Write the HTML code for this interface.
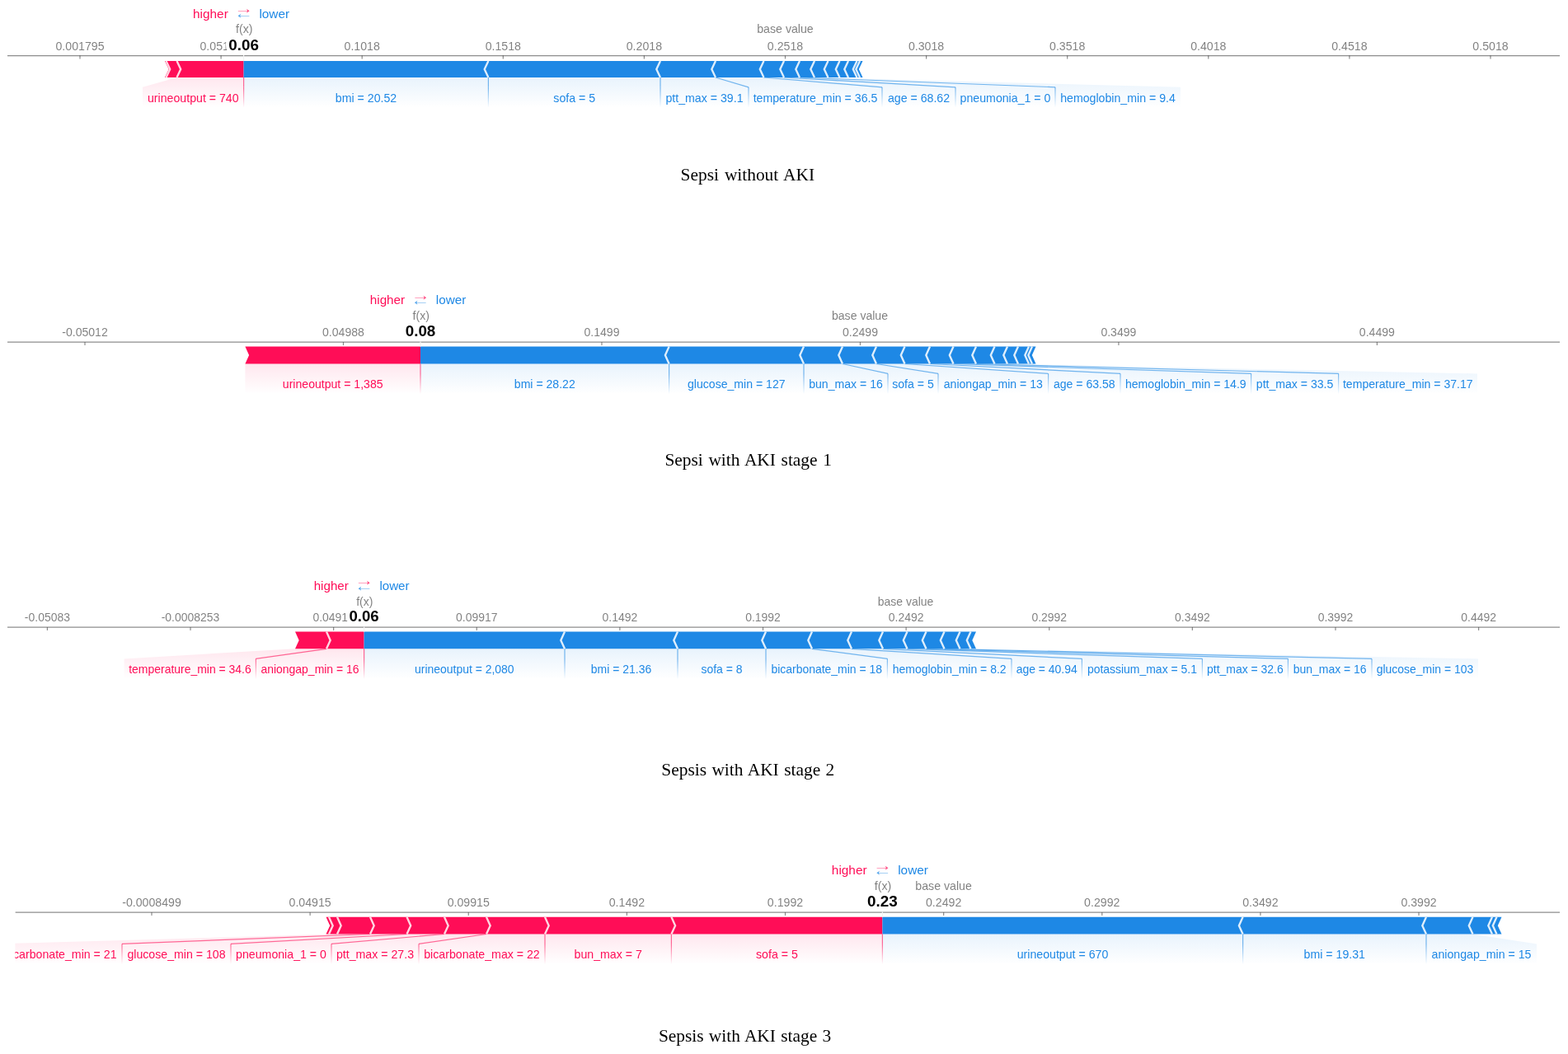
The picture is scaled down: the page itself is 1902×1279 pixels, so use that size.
<!DOCTYPE html>
<html lang="en"><head><meta charset="utf-8"><title>SHAP force plots</title>
<style>
html,body{margin:0;padding:0;background:#fff;}
body{width:1902px;height:1279px;overflow:hidden;}
svg{display:block;position:absolute;left:0;top:0;}
text{font-family:"Liberation Sans",Arial,Helvetica,sans-serif;}
.lab{font-size:14.1px;text-anchor:middle;}
.tick{font-size:14.1px;text-anchor:middle;fill:#000;opacity:.5;}
.ttl{font-size:14.1px;text-anchor:middle;fill:#000;opacity:.5;}
.hl{font-size:15.3px;}
.arr{font-family:"WenQuanYi Zen Hei","DejaVu Sans",sans-serif;font-size:16px;opacity:.75;}
.bold{font-size:18.8px;font-weight:bold;text-anchor:middle;}
.cap{font-family:"Liberation Serif","Times New Roman",serif;font-size:21.4px;fill:#000;white-space:pre;}
.p0 .lab,.p0 .tick,.p0 .ttl{font-size:14.17px;}.p0 .hl{font-size:15.38px;}.p0 .bold{font-size:18.89px;}
.p1 .lab,.p1 .tick,.p1 .ttl{font-size:14.09px;}.p1 .hl{font-size:15.28px;}.p1 .bold{font-size:18.78px;}
.p2 .lab,.p2 .tick,.p2 .ttl{font-size:13.96px;}.p2 .hl{font-size:15.15px;}.p2 .bold{font-size:18.61px;}
.p3 .lab,.p3 .tick,.p3 .ttl{font-size:14.17px;}.p3 .hl{font-size:15.38px;}.p3 .bold{font-size:18.89px;}
</style></head><body>
<svg width="1902" height="1279" viewBox="0 0 1902 1279">
<defs>
<linearGradient id="lg0" x1="0" y1="0" x2="0" y2="1"><stop offset="0" stop-color="rgb(255,13,87)" stop-opacity="0.6"/><stop offset="1" stop-color="rgb(255,13,87)" stop-opacity="0"/></linearGradient>
<linearGradient id="bg0" x1="0" y1="0" x2="0" y2="1"><stop offset="0" stop-color="rgb(255,13,87)" stop-opacity="0.5"/><stop offset="1" stop-color="rgb(255,13,87)" stop-opacity="0"/></linearGradient>
<linearGradient id="lg1" x1="0" y1="0" x2="0" y2="1"><stop offset="0" stop-color="rgb(30,136,229)" stop-opacity="0.6"/><stop offset="1" stop-color="rgb(30,136,229)" stop-opacity="0"/></linearGradient>
<linearGradient id="bg1" x1="0" y1="0" x2="0" y2="1"><stop offset="0" stop-color="rgb(30,136,229)" stop-opacity="0.5"/><stop offset="1" stop-color="rgb(30,136,229)" stop-opacity="0"/></linearGradient>
<clipPath id="cp3"><rect x="18.4" y="1037.2" width="1873.6" height="330"/></clipPath>
</defs>
<rect x="0" y="0" width="1902" height="1279" fill="#fff"/>
<g class="p0">
<path d="M592.4,94L592.4,105.8L592.4,130.6L295.6,130.6L295.6,105.8L295.6,94Z" fill="url(#bg1)" opacity="0.2"/>
<path d="M801,94L801,105.8L801,130.6L592.4,130.6L592.4,105.8L592.4,94Z" fill="url(#bg1)" opacity="0.2"/>
<path d="M868,94L908,105.8L908,130.6L801,130.6L801,105.8L801,94Z" fill="url(#bg1)" opacity="0.2"/>
<path d="M926.5,94L1070,105.8L1070,130.6L908,130.6L908,105.8L868,94Z" fill="url(#bg1)" opacity="0.2"/>
<path d="M951,94L1159,105.8L1159,130.6L1070,130.6L1070,105.8L926.5,94Z" fill="url(#bg1)" opacity="0.2"/>
<path d="M970,94L1280,105.8L1280,130.6L1159,130.6L1159,105.8L951,94Z" fill="url(#bg1)" opacity="0.2"/>
<path d="M988,94L1432,105.8L1432,130.6L1280,130.6L1280,105.8L970,94Z" fill="url(#bg1)" opacity="0.2"/>
<path d="M295.6,94L295.6,105.8L295.6,130.6L173,130.6L173,105.8L214.5,94Z" fill="url(#bg0)" opacity="0.2"/>
<path d="M200,74.1L201.5,74.1L206.2,84.05L201.5,94L200,94L204.7,84.05Z" fill="rgb(255,13,87)"/>
<path d="M201.5,74.1L214.5,74.1L219.2,84.05L214.5,94L201.5,94L206.2,84.05Z" fill="rgb(255,13,87)"/>
<path d="M214.5,74.1L295.6,74.1L295.6,84.05L295.6,94L214.5,94L219.2,84.05Z" fill="rgb(255,13,87)"/>
<path d="M295.6,74.1L592.4,74.1L587.7,84.05L592.4,94L295.6,94L295.6,84.05Z" fill="rgb(30,136,229)"/>
<path d="M592.4,74.1L801,74.1L796.3,84.05L801,94L592.4,94L587.7,84.05Z" fill="rgb(30,136,229)"/>
<path d="M801,74.1L868,74.1L863.3,84.05L868,94L801,94L796.3,84.05Z" fill="rgb(30,136,229)"/>
<path d="M868,74.1L926.5,74.1L921.8,84.05L926.5,94L868,94L863.3,84.05Z" fill="rgb(30,136,229)"/>
<path d="M926.5,74.1L951,74.1L946.3,84.05L951,94L926.5,94L921.8,84.05Z" fill="rgb(30,136,229)"/>
<path d="M951,74.1L970,74.1L965.3,84.05L970,94L951,94L946.3,84.05Z" fill="rgb(30,136,229)"/>
<path d="M970,74.1L988,74.1L983.3,84.05L988,94L970,94L965.3,84.05Z" fill="rgb(30,136,229)"/>
<path d="M988,74.1L1004.5,74.1L999.8,84.05L1004.5,94L988,94L983.3,84.05Z" fill="rgb(30,136,229)"/>
<path d="M1004.5,74.1L1018.5,74.1L1013.8,84.05L1018.5,94L1004.5,94L999.8,84.05Z" fill="rgb(30,136,229)"/>
<path d="M1018.5,74.1L1029,74.1L1024.3,84.05L1029,94L1018.5,94L1013.8,84.05Z" fill="rgb(30,136,229)"/>
<path d="M1029,74.1L1039.5,74.1L1034.8,84.05L1039.5,94L1029,94L1024.3,84.05Z" fill="rgb(30,136,229)"/>
<path d="M1039.5,74.1L1043,74.1L1038.3,84.05L1043,94L1039.5,94L1034.8,84.05Z" fill="rgb(30,136,229)"/>
<path d="M1043,74.1L1046.5,74.1L1041.8,84.05L1046.5,94L1043,94L1038.3,84.05Z" fill="rgb(30,136,229)"/>
<rect x="591.8" y="105.8" width="1.2" height="24.8" fill="url(#lg1)"/>
<line x1="592.4" y1="94" x2="592.4" y2="105.8" stroke="rgb(30,136,229)" stroke-opacity="0.6" stroke-width="1.2"/>
<rect x="800.4" y="105.8" width="1.2" height="24.8" fill="url(#lg1)"/>
<line x1="801" y1="94" x2="801" y2="105.8" stroke="rgb(30,136,229)" stroke-opacity="0.6" stroke-width="1.2"/>
<rect x="907.4" y="105.8" width="1.2" height="24.8" fill="url(#lg1)"/>
<line x1="868" y1="94" x2="908" y2="105.8" stroke="rgb(30,136,229)" stroke-opacity="0.6" stroke-width="1.2"/>
<rect x="1069.4" y="105.8" width="1.2" height="24.8" fill="url(#lg1)"/>
<line x1="926.5" y1="94" x2="1070" y2="105.8" stroke="rgb(30,136,229)" stroke-opacity="0.6" stroke-width="1.2"/>
<rect x="1158.4" y="105.8" width="1.2" height="24.8" fill="url(#lg1)"/>
<line x1="951" y1="94" x2="1159" y2="105.8" stroke="rgb(30,136,229)" stroke-opacity="0.6" stroke-width="1.2"/>
<rect x="1279.4" y="105.8" width="1.2" height="24.8" fill="url(#lg1)"/>
<line x1="970" y1="94" x2="1280" y2="105.8" stroke="rgb(30,136,229)" stroke-opacity="0.6" stroke-width="1.2"/>
<rect x="295" y="105.8" width="1.2" height="24.8" fill="url(#lg0)"/>
<line x1="295.6" y1="94" x2="295.6" y2="105.8" stroke="rgb(255,13,87)" stroke-opacity="0.6" stroke-width="1.2"/>
<path d="M201.5,74.1L206.2,84.05L201.5,94" fill="none" stroke="rgb(255,214,226)" stroke-width="2.35"/>
<path d="M214.5,74.1L219.2,84.05L214.5,94" fill="none" stroke="rgb(255,214,226)" stroke-width="2.35"/>
<path d="M592.4,74.1L587.7,84.05L592.4,94" fill="none" stroke="rgb(222,238,252)" stroke-width="2.35"/>
<path d="M801,74.1L796.3,84.05L801,94" fill="none" stroke="rgb(222,238,252)" stroke-width="2.35"/>
<path d="M868,74.1L863.3,84.05L868,94" fill="none" stroke="rgb(222,238,252)" stroke-width="2.35"/>
<path d="M926.5,74.1L921.8,84.05L926.5,94" fill="none" stroke="rgb(222,238,252)" stroke-width="2.35"/>
<path d="M951,74.1L946.3,84.05L951,94" fill="none" stroke="rgb(222,238,252)" stroke-width="2.35"/>
<path d="M970,74.1L965.3,84.05L970,94" fill="none" stroke="rgb(222,238,252)" stroke-width="2.35"/>
<path d="M988,74.1L983.3,84.05L988,94" fill="none" stroke="rgb(222,238,252)" stroke-width="2.35"/>
<path d="M1004.5,74.1L999.8,84.05L1004.5,94" fill="none" stroke="rgb(222,238,252)" stroke-width="2.35"/>
<path d="M1018.5,74.1L1013.8,84.05L1018.5,94" fill="none" stroke="rgb(222,238,252)" stroke-width="2.35"/>
<path d="M1029,74.1L1024.3,84.05L1029,94" fill="none" stroke="rgb(222,238,252)" stroke-width="2.35"/>
<path d="M1039.5,74.1L1034.8,84.05L1039.5,94" fill="none" stroke="rgb(222,238,252)" stroke-width="2.35"/>
<path d="M1043,74.1L1038.3,84.05L1043,94" fill="none" stroke="rgb(222,238,252)" stroke-width="2.35"/>
<line x1="9" y1="67.6" x2="1892" y2="67.6" stroke="#000" stroke-opacity="0.45" stroke-width="1.2"/>
<line x1="97" y1="67.6" x2="97" y2="71.4" stroke="#000" stroke-opacity="0.45" stroke-width="1.2"/>
<text class="tick" x="97" y="60.7">0.001795</text>
<line x1="268.1" y1="67.6" x2="268.1" y2="71.4" stroke="#000" stroke-opacity="0.45" stroke-width="1.2"/>
<text class="tick" x="268.1" y="60.7">0.05179</text>
<line x1="439.2" y1="67.6" x2="439.2" y2="71.4" stroke="#000" stroke-opacity="0.45" stroke-width="1.2"/>
<text class="tick" x="439.2" y="60.7">0.1018</text>
<line x1="610.3" y1="67.6" x2="610.3" y2="71.4" stroke="#000" stroke-opacity="0.45" stroke-width="1.2"/>
<text class="tick" x="610.3" y="60.7">0.1518</text>
<line x1="781.4" y1="67.6" x2="781.4" y2="71.4" stroke="#000" stroke-opacity="0.45" stroke-width="1.2"/>
<text class="tick" x="781.4" y="60.7">0.2018</text>
<line x1="952.5" y1="67.6" x2="952.5" y2="71.4" stroke="#000" stroke-opacity="0.45" stroke-width="1.2"/>
<text class="tick" x="952.5" y="60.7">0.2518</text>
<line x1="1123.6" y1="67.6" x2="1123.6" y2="71.4" stroke="#000" stroke-opacity="0.45" stroke-width="1.2"/>
<text class="tick" x="1123.6" y="60.7">0.3018</text>
<line x1="1294.7" y1="67.6" x2="1294.7" y2="71.4" stroke="#000" stroke-opacity="0.45" stroke-width="1.2"/>
<text class="tick" x="1294.7" y="60.7">0.3518</text>
<line x1="1465.8" y1="67.6" x2="1465.8" y2="71.4" stroke="#000" stroke-opacity="0.45" stroke-width="1.2"/>
<text class="tick" x="1465.8" y="60.7">0.4018</text>
<line x1="1636.9" y1="67.6" x2="1636.9" y2="71.4" stroke="#000" stroke-opacity="0.45" stroke-width="1.2"/>
<text class="tick" x="1636.9" y="60.7">0.4518</text>
<line x1="1808" y1="67.6" x2="1808" y2="71.4" stroke="#000" stroke-opacity="0.45" stroke-width="1.2"/>
<text class="tick" x="1808" y="60.7">0.5018</text>
<text class="lab" x="444" y="123.8" fill="rgb(30,136,229)">bmi = 20.52</text>
<text class="lab" x="696.7" y="123.8" fill="rgb(30,136,229)">sofa = 5</text>
<text class="lab" x="854.5" y="123.8" fill="rgb(30,136,229)">ptt_max = 39.1</text>
<text class="lab" x="989" y="123.8" fill="rgb(30,136,229)">temperature_min = 36.5</text>
<text class="lab" x="1114.5" y="123.8" fill="rgb(30,136,229)">age = 68.62</text>
<text class="lab" x="1219.5" y="123.8" fill="rgb(30,136,229)">pneumonia_1 = 0</text>
<text class="lab" x="1356" y="123.8" fill="rgb(30,136,229)">hemoglobin_min = 9.4</text>
<text class="lab" x="234.3" y="123.8" fill="rgb(255,13,87)">urineoutput = 740</text>
<text class="ttl" x="952.5" y="40.4">base value</text>
<line x1="295.6" y1="67" x2="295.6" y2="74.1" stroke="#F2F2F2" stroke-width="1.2"/>
<text class="bold" x="295.6" y="60.7" fill="#000" stroke="#fff" stroke-width="8" stroke-linejoin="round" paint-order="stroke">0.06</text>
<text class="hl" x="276.8" y="21.8" text-anchor="end" fill="rgb(255,13,87)">higher</text>
<text class="hl" x="314.4" y="21.8" text-anchor="start" fill="rgb(30,136,229)">lower</text>
<text class="arr" x="303.8" y="18.9" text-anchor="end" fill="rgb(255,13,87)">→</text>
<text class="arr" x="287.4" y="24.7" text-anchor="start" fill="rgb(30,136,229)">←</text>
<text class="ttl" x="296.3" y="40.4">f(x)</text>
</g>
<text class="cap" x="825.6" y="218.5" style="word-spacing:1.6px">Sepsi without AKI</text>
<g class="p1">
<path d="M811.6,441.5L811.6,453.4L811.6,478.2L510,478.2L510,453.4L510,441.5Z" fill="url(#bg1)" opacity="0.2"/>
<path d="M975,441.5L975,453.4L975,478.2L811.6,478.2L811.6,453.4L811.6,441.5Z" fill="url(#bg1)" opacity="0.2"/>
<path d="M1022,441.5L1077,453.4L1077,478.2L975,478.2L975,453.4L975,441.5Z" fill="url(#bg1)" opacity="0.2"/>
<path d="M1063,441.5L1138,453.4L1138,478.2L1077,478.2L1077,453.4L1022,441.5Z" fill="url(#bg1)" opacity="0.2"/>
<path d="M1097.5,441.5L1271.6,453.4L1271.6,478.2L1138,478.2L1138,453.4L1063,441.5Z" fill="url(#bg1)" opacity="0.2"/>
<path d="M1128,441.5L1359,453.4L1359,478.2L1271.6,478.2L1271.6,453.4L1097.5,441.5Z" fill="url(#bg1)" opacity="0.2"/>
<path d="M1156.5,441.5L1517.6,453.4L1517.6,478.2L1359,478.2L1359,453.4L1128,441.5Z" fill="url(#bg1)" opacity="0.2"/>
<path d="M1184,441.5L1623.6,453.4L1623.6,478.2L1517.6,478.2L1517.6,453.4L1156.5,441.5Z" fill="url(#bg1)" opacity="0.2"/>
<path d="M1206.5,441.5L1792,453.4L1792,478.2L1623.6,478.2L1623.6,453.4L1184,441.5Z" fill="url(#bg1)" opacity="0.2"/>
<path d="M510,441.5L510,453.4L510,478.2L297.4,478.2L297.4,453.4L297.4,441.5Z" fill="url(#bg0)" opacity="0.2"/>
<path d="M297.4,420.5L510,420.5L510,431L510,441.5L297.4,441.5L302.1,431Z" fill="rgb(255,13,87)"/>
<path d="M510,420.5L811.6,420.5L806.9,431L811.6,441.5L510,441.5L510,431Z" fill="rgb(30,136,229)"/>
<path d="M811.6,420.5L975,420.5L970.3,431L975,441.5L811.6,441.5L806.9,431Z" fill="rgb(30,136,229)"/>
<path d="M975,420.5L1022,420.5L1017.3,431L1022,441.5L975,441.5L970.3,431Z" fill="rgb(30,136,229)"/>
<path d="M1022,420.5L1063,420.5L1058.3,431L1063,441.5L1022,441.5L1017.3,431Z" fill="rgb(30,136,229)"/>
<path d="M1063,420.5L1097.5,420.5L1092.8,431L1097.5,441.5L1063,441.5L1058.3,431Z" fill="rgb(30,136,229)"/>
<path d="M1097.5,420.5L1128,420.5L1123.3,431L1128,441.5L1097.5,441.5L1092.8,431Z" fill="rgb(30,136,229)"/>
<path d="M1128,420.5L1156.5,420.5L1151.8,431L1156.5,441.5L1128,441.5L1123.3,431Z" fill="rgb(30,136,229)"/>
<path d="M1156.5,420.5L1184,420.5L1179.3,431L1184,441.5L1156.5,441.5L1151.8,431Z" fill="rgb(30,136,229)"/>
<path d="M1184,420.5L1206.5,420.5L1201.8,431L1206.5,441.5L1184,441.5L1179.3,431Z" fill="rgb(30,136,229)"/>
<path d="M1206.5,420.5L1222,420.5L1217.3,431L1222,441.5L1206.5,441.5L1201.8,431Z" fill="rgb(30,136,229)"/>
<path d="M1222,420.5L1235,420.5L1230.3,431L1235,441.5L1222,441.5L1217.3,431Z" fill="rgb(30,136,229)"/>
<path d="M1235,420.5L1248,420.5L1243.3,431L1248,441.5L1235,441.5L1230.3,431Z" fill="rgb(30,136,229)"/>
<path d="M1248,420.5L1252,420.5L1247.3,431L1252,441.5L1248,441.5L1243.3,431Z" fill="rgb(30,136,229)"/>
<path d="M1252,420.5L1256.5,420.5L1251.8,431L1256.5,441.5L1252,441.5L1247.3,431Z" fill="rgb(30,136,229)"/>
<rect x="811" y="453.4" width="1.2" height="24.8" fill="url(#lg1)"/>
<line x1="811.6" y1="441.5" x2="811.6" y2="453.4" stroke="rgb(30,136,229)" stroke-opacity="0.6" stroke-width="1.2"/>
<rect x="974.4" y="453.4" width="1.2" height="24.8" fill="url(#lg1)"/>
<line x1="975" y1="441.5" x2="975" y2="453.4" stroke="rgb(30,136,229)" stroke-opacity="0.6" stroke-width="1.2"/>
<rect x="1076.4" y="453.4" width="1.2" height="24.8" fill="url(#lg1)"/>
<line x1="1022" y1="441.5" x2="1077" y2="453.4" stroke="rgb(30,136,229)" stroke-opacity="0.6" stroke-width="1.2"/>
<rect x="1137.4" y="453.4" width="1.2" height="24.8" fill="url(#lg1)"/>
<line x1="1063" y1="441.5" x2="1138" y2="453.4" stroke="rgb(30,136,229)" stroke-opacity="0.6" stroke-width="1.2"/>
<rect x="1271" y="453.4" width="1.2" height="24.8" fill="url(#lg1)"/>
<line x1="1097.5" y1="441.5" x2="1271.6" y2="453.4" stroke="rgb(30,136,229)" stroke-opacity="0.6" stroke-width="1.2"/>
<rect x="1358.4" y="453.4" width="1.2" height="24.8" fill="url(#lg1)"/>
<line x1="1128" y1="441.5" x2="1359" y2="453.4" stroke="rgb(30,136,229)" stroke-opacity="0.6" stroke-width="1.2"/>
<rect x="1517" y="453.4" width="1.2" height="24.8" fill="url(#lg1)"/>
<line x1="1156.5" y1="441.5" x2="1517.6" y2="453.4" stroke="rgb(30,136,229)" stroke-opacity="0.6" stroke-width="1.2"/>
<rect x="1623" y="453.4" width="1.2" height="24.8" fill="url(#lg1)"/>
<line x1="1184" y1="441.5" x2="1623.6" y2="453.4" stroke="rgb(30,136,229)" stroke-opacity="0.6" stroke-width="1.2"/>
<rect x="509.4" y="453.4" width="1.2" height="24.8" fill="url(#lg0)"/>
<line x1="510" y1="441.5" x2="510" y2="453.4" stroke="rgb(255,13,87)" stroke-opacity="0.6" stroke-width="1.2"/>
<path d="M811.6,420.5L806.9,431L811.6,441.5" fill="none" stroke="rgb(222,238,252)" stroke-width="2.35"/>
<path d="M975,420.5L970.3,431L975,441.5" fill="none" stroke="rgb(222,238,252)" stroke-width="2.35"/>
<path d="M1022,420.5L1017.3,431L1022,441.5" fill="none" stroke="rgb(222,238,252)" stroke-width="2.35"/>
<path d="M1063,420.5L1058.3,431L1063,441.5" fill="none" stroke="rgb(222,238,252)" stroke-width="2.35"/>
<path d="M1097.5,420.5L1092.8,431L1097.5,441.5" fill="none" stroke="rgb(222,238,252)" stroke-width="2.35"/>
<path d="M1128,420.5L1123.3,431L1128,441.5" fill="none" stroke="rgb(222,238,252)" stroke-width="2.35"/>
<path d="M1156.5,420.5L1151.8,431L1156.5,441.5" fill="none" stroke="rgb(222,238,252)" stroke-width="2.35"/>
<path d="M1184,420.5L1179.3,431L1184,441.5" fill="none" stroke="rgb(222,238,252)" stroke-width="2.35"/>
<path d="M1206.5,420.5L1201.8,431L1206.5,441.5" fill="none" stroke="rgb(222,238,252)" stroke-width="2.35"/>
<path d="M1222,420.5L1217.3,431L1222,441.5" fill="none" stroke="rgb(222,238,252)" stroke-width="2.35"/>
<path d="M1235,420.5L1230.3,431L1235,441.5" fill="none" stroke="rgb(222,238,252)" stroke-width="2.35"/>
<path d="M1248,420.5L1243.3,431L1248,441.5" fill="none" stroke="rgb(222,238,252)" stroke-width="2.35"/>
<path d="M1252,420.5L1247.3,431L1252,441.5" fill="none" stroke="rgb(222,238,252)" stroke-width="2.35"/>
<line x1="9" y1="415.2" x2="1892" y2="415.2" stroke="#000" stroke-opacity="0.45" stroke-width="1.2"/>
<line x1="103" y1="415.2" x2="103" y2="419" stroke="#000" stroke-opacity="0.45" stroke-width="1.2"/>
<text class="tick" x="103" y="408.3">-0.05012</text>
<line x1="416.48" y1="415.2" x2="416.48" y2="419" stroke="#000" stroke-opacity="0.45" stroke-width="1.2"/>
<text class="tick" x="416.48" y="408.3">0.04988</text>
<line x1="729.96" y1="415.2" x2="729.96" y2="419" stroke="#000" stroke-opacity="0.45" stroke-width="1.2"/>
<text class="tick" x="729.96" y="408.3">0.1499</text>
<line x1="1043.44" y1="415.2" x2="1043.44" y2="419" stroke="#000" stroke-opacity="0.45" stroke-width="1.2"/>
<text class="tick" x="1043.44" y="408.3">0.2499</text>
<line x1="1356.92" y1="415.2" x2="1356.92" y2="419" stroke="#000" stroke-opacity="0.45" stroke-width="1.2"/>
<text class="tick" x="1356.92" y="408.3">0.3499</text>
<line x1="1670.4" y1="415.2" x2="1670.4" y2="419" stroke="#000" stroke-opacity="0.45" stroke-width="1.2"/>
<text class="tick" x="1670.4" y="408.3">0.4499</text>
<text class="lab" x="660.8" y="471.4" fill="rgb(30,136,229)">bmi = 28.22</text>
<text class="lab" x="893.3" y="471.4" fill="rgb(30,136,229)">glucose_min = 127</text>
<text class="lab" x="1026" y="471.4" fill="rgb(30,136,229)">bun_max = 16</text>
<text class="lab" x="1107.5" y="471.4" fill="rgb(30,136,229)">sofa = 5</text>
<text class="lab" x="1204.8" y="471.4" fill="rgb(30,136,229)">aniongap_min = 13</text>
<text class="lab" x="1315.3" y="471.4" fill="rgb(30,136,229)">age = 63.58</text>
<text class="lab" x="1438.3" y="471.4" fill="rgb(30,136,229)">hemoglobin_min = 14.9</text>
<text class="lab" x="1570.6" y="471.4" fill="rgb(30,136,229)">ptt_max = 33.5</text>
<text class="lab" x="1707.8" y="471.4" fill="rgb(30,136,229)">temperature_min = 37.17</text>
<text class="lab" x="403.7" y="471.4" fill="rgb(255,13,87)">urineoutput = 1,385</text>
<text class="ttl" x="1043" y="388.3">base value</text>
<line x1="510" y1="414.6" x2="510" y2="420.5" stroke="#F2F2F2" stroke-width="1.2"/>
<text class="bold" x="510" y="408.3" fill="#000" stroke="#fff" stroke-width="8" stroke-linejoin="round" paint-order="stroke">0.08</text>
<text class="hl" x="491.2" y="369.4" text-anchor="end" fill="rgb(255,13,87)">higher</text>
<text class="hl" x="528.8" y="369.4" text-anchor="start" fill="rgb(30,136,229)">lower</text>
<text class="arr" x="518.2" y="366.5" text-anchor="end" fill="rgb(255,13,87)">→</text>
<text class="arr" x="501.8" y="373.1" text-anchor="start" fill="rgb(30,136,229)">←</text>
<text class="ttl" x="510.7" y="388.3">f(x)</text>
</g>
<text class="cap" x="806.4" y="564.6" style="word-spacing:1.3px">Sepsi with AKI stage 1</text>
<g class="p2">
<path d="M685,787.3L685,799.4L685,824.2L441.6,824.2L441.6,799.4L441.6,787.3Z" fill="url(#bg1)" opacity="0.2"/>
<path d="M822,787.3L822,799.4L822,824.2L685,824.2L685,799.4L685,787.3Z" fill="url(#bg1)" opacity="0.2"/>
<path d="M929,787.3L929,799.4L929,824.2L822,824.2L822,799.4L822,787.3Z" fill="url(#bg1)" opacity="0.2"/>
<path d="M985,787.3L1076.4,799.4L1076.4,824.2L929,824.2L929,799.4L929,787.3Z" fill="url(#bg1)" opacity="0.2"/>
<path d="M1033,787.3L1227,799.4L1227,824.2L1076.4,824.2L1076.4,799.4L985,787.3Z" fill="url(#bg1)" opacity="0.2"/>
<path d="M1071,787.3L1312.4,799.4L1312.4,824.2L1227,824.2L1227,799.4L1033,787.3Z" fill="url(#bg1)" opacity="0.2"/>
<path d="M1100.5,787.3L1458.4,799.4L1458.4,824.2L1312.4,824.2L1312.4,799.4L1071,787.3Z" fill="url(#bg1)" opacity="0.2"/>
<path d="M1123.5,787.3L1562.4,799.4L1562.4,824.2L1458.4,824.2L1458.4,799.4L1100.5,787.3Z" fill="url(#bg1)" opacity="0.2"/>
<path d="M1145.5,787.3L1664,799.4L1664,824.2L1562.4,824.2L1562.4,799.4L1123.5,787.3Z" fill="url(#bg1)" opacity="0.2"/>
<path d="M1164.5,787.3L1793,799.4L1793,824.2L1664,824.2L1664,799.4L1145.5,787.3Z" fill="url(#bg1)" opacity="0.2"/>
<path d="M441.6,787.3L441.6,799.4L441.6,824.2L310.4,824.2L310.4,799.4L396,787.3Z" fill="url(#bg0)" opacity="0.2"/>
<path d="M396,787.3L310.4,799.4L310.4,824.2L150.6,824.2L150.6,799.4L358,787.3Z" fill="url(#bg0)" opacity="0.2"/>
<path d="M358,766.5L396,766.5L400.7,776.9L396,787.3L358,787.3L362.7,776.9Z" fill="rgb(255,13,87)"/>
<path d="M396,766.5L441.6,766.5L441.6,776.9L441.6,787.3L396,787.3L400.7,776.9Z" fill="rgb(255,13,87)"/>
<path d="M441.6,766.5L685,766.5L680.3,776.9L685,787.3L441.6,787.3L441.6,776.9Z" fill="rgb(30,136,229)"/>
<path d="M685,766.5L822,766.5L817.3,776.9L822,787.3L685,787.3L680.3,776.9Z" fill="rgb(30,136,229)"/>
<path d="M822,766.5L929,766.5L924.3,776.9L929,787.3L822,787.3L817.3,776.9Z" fill="rgb(30,136,229)"/>
<path d="M929,766.5L985,766.5L980.3,776.9L985,787.3L929,787.3L924.3,776.9Z" fill="rgb(30,136,229)"/>
<path d="M985,766.5L1033,766.5L1028.3,776.9L1033,787.3L985,787.3L980.3,776.9Z" fill="rgb(30,136,229)"/>
<path d="M1033,766.5L1071,766.5L1066.3,776.9L1071,787.3L1033,787.3L1028.3,776.9Z" fill="rgb(30,136,229)"/>
<path d="M1071,766.5L1100.5,766.5L1095.8,776.9L1100.5,787.3L1071,787.3L1066.3,776.9Z" fill="rgb(30,136,229)"/>
<path d="M1100.5,766.5L1123.5,766.5L1118.8,776.9L1123.5,787.3L1100.5,787.3L1095.8,776.9Z" fill="rgb(30,136,229)"/>
<path d="M1123.5,766.5L1145.5,766.5L1140.8,776.9L1145.5,787.3L1123.5,787.3L1118.8,776.9Z" fill="rgb(30,136,229)"/>
<path d="M1145.5,766.5L1164.5,766.5L1159.8,776.9L1164.5,787.3L1145.5,787.3L1140.8,776.9Z" fill="rgb(30,136,229)"/>
<path d="M1164.5,766.5L1177.5,766.5L1172.8,776.9L1177.5,787.3L1164.5,787.3L1159.8,776.9Z" fill="rgb(30,136,229)"/>
<path d="M1177.5,766.5L1184,766.5L1179.3,776.9L1184,787.3L1177.5,787.3L1172.8,776.9Z" fill="rgb(30,136,229)"/>
<rect x="684.4" y="799.4" width="1.2" height="24.8" fill="url(#lg1)"/>
<line x1="685" y1="787.3" x2="685" y2="799.4" stroke="rgb(30,136,229)" stroke-opacity="0.6" stroke-width="1.2"/>
<rect x="821.4" y="799.4" width="1.2" height="24.8" fill="url(#lg1)"/>
<line x1="822" y1="787.3" x2="822" y2="799.4" stroke="rgb(30,136,229)" stroke-opacity="0.6" stroke-width="1.2"/>
<rect x="928.4" y="799.4" width="1.2" height="24.8" fill="url(#lg1)"/>
<line x1="929" y1="787.3" x2="929" y2="799.4" stroke="rgb(30,136,229)" stroke-opacity="0.6" stroke-width="1.2"/>
<rect x="1075.8" y="799.4" width="1.2" height="24.8" fill="url(#lg1)"/>
<line x1="985" y1="787.3" x2="1076.4" y2="799.4" stroke="rgb(30,136,229)" stroke-opacity="0.6" stroke-width="1.2"/>
<rect x="1226.4" y="799.4" width="1.2" height="24.8" fill="url(#lg1)"/>
<line x1="1033" y1="787.3" x2="1227" y2="799.4" stroke="rgb(30,136,229)" stroke-opacity="0.6" stroke-width="1.2"/>
<rect x="1311.8" y="799.4" width="1.2" height="24.8" fill="url(#lg1)"/>
<line x1="1071" y1="787.3" x2="1312.4" y2="799.4" stroke="rgb(30,136,229)" stroke-opacity="0.6" stroke-width="1.2"/>
<rect x="1457.8" y="799.4" width="1.2" height="24.8" fill="url(#lg1)"/>
<line x1="1100.5" y1="787.3" x2="1458.4" y2="799.4" stroke="rgb(30,136,229)" stroke-opacity="0.6" stroke-width="1.2"/>
<rect x="1561.8" y="799.4" width="1.2" height="24.8" fill="url(#lg1)"/>
<line x1="1123.5" y1="787.3" x2="1562.4" y2="799.4" stroke="rgb(30,136,229)" stroke-opacity="0.6" stroke-width="1.2"/>
<rect x="1663.4" y="799.4" width="1.2" height="24.8" fill="url(#lg1)"/>
<line x1="1145.5" y1="787.3" x2="1664" y2="799.4" stroke="rgb(30,136,229)" stroke-opacity="0.6" stroke-width="1.2"/>
<rect x="441" y="799.4" width="1.2" height="24.8" fill="url(#lg0)"/>
<line x1="441.6" y1="787.3" x2="441.6" y2="799.4" stroke="rgb(255,13,87)" stroke-opacity="0.6" stroke-width="1.2"/>
<rect x="309.8" y="799.4" width="1.2" height="24.8" fill="url(#lg0)"/>
<line x1="396" y1="787.3" x2="310.4" y2="799.4" stroke="rgb(255,13,87)" stroke-opacity="0.6" stroke-width="1.2"/>
<path d="M396,766.5L400.7,776.9L396,787.3" fill="none" stroke="rgb(255,214,226)" stroke-width="2.35"/>
<path d="M685,766.5L680.3,776.9L685,787.3" fill="none" stroke="rgb(222,238,252)" stroke-width="2.35"/>
<path d="M822,766.5L817.3,776.9L822,787.3" fill="none" stroke="rgb(222,238,252)" stroke-width="2.35"/>
<path d="M929,766.5L924.3,776.9L929,787.3" fill="none" stroke="rgb(222,238,252)" stroke-width="2.35"/>
<path d="M985,766.5L980.3,776.9L985,787.3" fill="none" stroke="rgb(222,238,252)" stroke-width="2.35"/>
<path d="M1033,766.5L1028.3,776.9L1033,787.3" fill="none" stroke="rgb(222,238,252)" stroke-width="2.35"/>
<path d="M1071,766.5L1066.3,776.9L1071,787.3" fill="none" stroke="rgb(222,238,252)" stroke-width="2.35"/>
<path d="M1100.5,766.5L1095.8,776.9L1100.5,787.3" fill="none" stroke="rgb(222,238,252)" stroke-width="2.35"/>
<path d="M1123.5,766.5L1118.8,776.9L1123.5,787.3" fill="none" stroke="rgb(222,238,252)" stroke-width="2.35"/>
<path d="M1145.5,766.5L1140.8,776.9L1145.5,787.3" fill="none" stroke="rgb(222,238,252)" stroke-width="2.35"/>
<path d="M1164.5,766.5L1159.8,776.9L1164.5,787.3" fill="none" stroke="rgb(222,238,252)" stroke-width="2.35"/>
<path d="M1177.5,766.5L1172.8,776.9L1177.5,787.3" fill="none" stroke="rgb(222,238,252)" stroke-width="2.35"/>
<line x1="9" y1="761.2" x2="1892" y2="761.2" stroke="#000" stroke-opacity="0.45" stroke-width="1.2"/>
<line x1="57.4" y1="761.2" x2="57.4" y2="765" stroke="#000" stroke-opacity="0.45" stroke-width="1.2"/>
<text class="tick" x="57.4" y="754.3">-0.05083</text>
<line x1="231.02" y1="761.2" x2="231.02" y2="765" stroke="#000" stroke-opacity="0.45" stroke-width="1.2"/>
<text class="tick" x="231.02" y="754.3">-0.0008253</text>
<line x1="404.64" y1="761.2" x2="404.64" y2="765" stroke="#000" stroke-opacity="0.45" stroke-width="1.2"/>
<text class="tick" x="404.64" y="754.3">0.04917</text>
<line x1="578.26" y1="761.2" x2="578.26" y2="765" stroke="#000" stroke-opacity="0.45" stroke-width="1.2"/>
<text class="tick" x="578.26" y="754.3">0.09917</text>
<line x1="751.88" y1="761.2" x2="751.88" y2="765" stroke="#000" stroke-opacity="0.45" stroke-width="1.2"/>
<text class="tick" x="751.88" y="754.3">0.1492</text>
<line x1="925.5" y1="761.2" x2="925.5" y2="765" stroke="#000" stroke-opacity="0.45" stroke-width="1.2"/>
<text class="tick" x="925.5" y="754.3">0.1992</text>
<line x1="1099.12" y1="761.2" x2="1099.12" y2="765" stroke="#000" stroke-opacity="0.45" stroke-width="1.2"/>
<text class="tick" x="1099.12" y="754.3">0.2492</text>
<line x1="1272.74" y1="761.2" x2="1272.74" y2="765" stroke="#000" stroke-opacity="0.45" stroke-width="1.2"/>
<text class="tick" x="1272.74" y="754.3">0.2992</text>
<line x1="1446.36" y1="761.2" x2="1446.36" y2="765" stroke="#000" stroke-opacity="0.45" stroke-width="1.2"/>
<text class="tick" x="1446.36" y="754.3">0.3492</text>
<line x1="1619.98" y1="761.2" x2="1619.98" y2="765" stroke="#000" stroke-opacity="0.45" stroke-width="1.2"/>
<text class="tick" x="1619.98" y="754.3">0.3992</text>
<line x1="1793.6" y1="761.2" x2="1793.6" y2="765" stroke="#000" stroke-opacity="0.45" stroke-width="1.2"/>
<text class="tick" x="1793.6" y="754.3">0.4492</text>
<text class="lab" x="563.3" y="817.4" fill="rgb(30,136,229)">urineoutput = 2,080</text>
<text class="lab" x="753.5" y="817.4" fill="rgb(30,136,229)">bmi = 21.36</text>
<text class="lab" x="875.5" y="817.4" fill="rgb(30,136,229)">sofa = 8</text>
<text class="lab" x="1002.7" y="817.4" fill="rgb(30,136,229)">bicarbonate_min = 18</text>
<text class="lab" x="1151.7" y="817.4" fill="rgb(30,136,229)">hemoglobin_min = 8.2</text>
<text class="lab" x="1269.7" y="817.4" fill="rgb(30,136,229)">age = 40.94</text>
<text class="lab" x="1385.4" y="817.4" fill="rgb(30,136,229)">potassium_max = 5.1</text>
<text class="lab" x="1510.4" y="817.4" fill="rgb(30,136,229)">ptt_max = 32.6</text>
<text class="lab" x="1613.2" y="817.4" fill="rgb(30,136,229)">bun_max = 16</text>
<text class="lab" x="1728.5" y="817.4" fill="rgb(30,136,229)">glucose_min = 103</text>
<text class="lab" x="376" y="817.4" fill="rgb(255,13,87)">aniongap_min = 16</text>
<text class="lab" x="230.5" y="817.4" fill="rgb(255,13,87)">temperature_min = 34.6</text>
<text class="ttl" x="1098.6" y="734.8">base value</text>
<line x1="441.6" y1="760.6" x2="441.6" y2="766.5" stroke="#F2F2F2" stroke-width="1.2"/>
<text class="bold" x="441.6" y="754.3" fill="#000" stroke="#fff" stroke-width="8" stroke-linejoin="round" paint-order="stroke">0.06</text>
<text class="hl" x="422.8" y="715.7" text-anchor="end" fill="rgb(255,13,87)">higher</text>
<text class="hl" x="460.4" y="715.7" text-anchor="start" fill="rgb(30,136,229)">lower</text>
<text class="arr" x="449.8" y="712.5" text-anchor="end" fill="rgb(255,13,87)">→</text>
<text class="arr" x="433.4" y="719.9" text-anchor="start" fill="rgb(30,136,229)">←</text>
<text class="ttl" x="442.3" y="734.8">f(x)</text>
</g>
<text class="cap" x="802.3" y="940.8" style="word-spacing:1.1px">Sepsis with AKI stage 2</text>
<g class="p3" clip-path="url(#cp3)">
<path d="M1507.6,1133.5L1507.6,1145.4L1507.6,1170.2L1070.4,1170.2L1070.4,1145.4L1070.4,1133.5Z" fill="url(#bg1)" opacity="0.2"/>
<path d="M1730,1133.5L1730,1145.4L1730,1170.2L1507.6,1170.2L1507.6,1145.4L1507.6,1133.5Z" fill="url(#bg1)" opacity="0.2"/>
<path d="M1786.5,1133.5L1864,1145.4L1864,1170.2L1730,1170.2L1730,1145.4L1730,1133.5Z" fill="url(#bg1)" opacity="0.2"/>
<path d="M1070.4,1133.5L1070.4,1145.4L1070.4,1170.2L814.4,1170.2L814.4,1145.4L814.4,1133.5Z" fill="url(#bg0)" opacity="0.2"/>
<path d="M814.4,1133.5L814.4,1145.4L814.4,1170.2L661,1170.2L661,1145.4L661,1133.5Z" fill="url(#bg0)" opacity="0.2"/>
<path d="M661,1133.5L661,1145.4L661,1170.2L508,1170.2L508,1145.4L590,1133.5Z" fill="url(#bg0)" opacity="0.2"/>
<path d="M590,1133.5L508,1145.4L508,1170.2L402,1170.2L402,1145.4L539,1133.5Z" fill="url(#bg0)" opacity="0.2"/>
<path d="M539,1133.5L402,1145.4L402,1170.2L280,1170.2L280,1145.4L493.5,1133.5Z" fill="url(#bg0)" opacity="0.2"/>
<path d="M493.5,1133.5L280,1145.4L280,1170.2L148,1170.2L148,1145.4L449,1133.5Z" fill="url(#bg0)" opacity="0.2"/>
<path d="M449,1133.5L148,1145.4L148,1170.2L-1.4,1170.2L-1.4,1145.4L409,1133.5Z" fill="url(#bg0)" opacity="0.2"/>
<path d="M395.5,1112.8L399,1112.8L403.7,1123.15L399,1133.5L395.5,1133.5L400.2,1123.15Z" fill="rgb(255,13,87)"/>
<path d="M399,1112.8L409,1112.8L413.7,1123.15L409,1133.5L399,1133.5L403.7,1123.15Z" fill="rgb(255,13,87)"/>
<path d="M409,1112.8L449,1112.8L453.7,1123.15L449,1133.5L409,1133.5L413.7,1123.15Z" fill="rgb(255,13,87)"/>
<path d="M449,1112.8L493.5,1112.8L498.2,1123.15L493.5,1133.5L449,1133.5L453.7,1123.15Z" fill="rgb(255,13,87)"/>
<path d="M493.5,1112.8L539,1112.8L543.7,1123.15L539,1133.5L493.5,1133.5L498.2,1123.15Z" fill="rgb(255,13,87)"/>
<path d="M539,1112.8L590,1112.8L594.7,1123.15L590,1133.5L539,1133.5L543.7,1123.15Z" fill="rgb(255,13,87)"/>
<path d="M590,1112.8L661,1112.8L665.7,1123.15L661,1133.5L590,1133.5L594.7,1123.15Z" fill="rgb(255,13,87)"/>
<path d="M661,1112.8L814.4,1112.8L819.1,1123.15L814.4,1133.5L661,1133.5L665.7,1123.15Z" fill="rgb(255,13,87)"/>
<path d="M814.4,1112.8L1070.4,1112.8L1070.4,1123.15L1070.4,1133.5L814.4,1133.5L819.1,1123.15Z" fill="rgb(255,13,87)"/>
<path d="M1070.4,1112.8L1507.6,1112.8L1502.9,1123.15L1507.6,1133.5L1070.4,1133.5L1070.4,1123.15Z" fill="rgb(30,136,229)"/>
<path d="M1507.6,1112.8L1730,1112.8L1725.3,1123.15L1730,1133.5L1507.6,1133.5L1502.9,1123.15Z" fill="rgb(30,136,229)"/>
<path d="M1730,1112.8L1786.5,1112.8L1781.8,1123.15L1786.5,1133.5L1730,1133.5L1725.3,1123.15Z" fill="rgb(30,136,229)"/>
<path d="M1786.5,1112.8L1810,1112.8L1805.3,1123.15L1810,1133.5L1786.5,1133.5L1781.8,1123.15Z" fill="rgb(30,136,229)"/>
<path d="M1810,1112.8L1815.5,1112.8L1810.8,1123.15L1815.5,1133.5L1810,1133.5L1805.3,1123.15Z" fill="rgb(30,136,229)"/>
<path d="M1815.5,1112.8L1821.5,1112.8L1816.8,1123.15L1821.5,1133.5L1815.5,1133.5L1810.8,1123.15Z" fill="rgb(30,136,229)"/>
<rect x="1507" y="1145.4" width="1.2" height="24.8" fill="url(#lg1)"/>
<line x1="1507.6" y1="1133.5" x2="1507.6" y2="1145.4" stroke="rgb(30,136,229)" stroke-opacity="0.6" stroke-width="1.2"/>
<rect x="1729.4" y="1145.4" width="1.2" height="24.8" fill="url(#lg1)"/>
<line x1="1730" y1="1133.5" x2="1730" y2="1145.4" stroke="rgb(30,136,229)" stroke-opacity="0.6" stroke-width="1.2"/>
<rect x="1069.8" y="1145.4" width="1.2" height="24.8" fill="url(#lg0)"/>
<line x1="1070.4" y1="1133.5" x2="1070.4" y2="1145.4" stroke="rgb(255,13,87)" stroke-opacity="0.6" stroke-width="1.2"/>
<rect x="813.8" y="1145.4" width="1.2" height="24.8" fill="url(#lg0)"/>
<line x1="814.4" y1="1133.5" x2="814.4" y2="1145.4" stroke="rgb(255,13,87)" stroke-opacity="0.6" stroke-width="1.2"/>
<rect x="660.4" y="1145.4" width="1.2" height="24.8" fill="url(#lg0)"/>
<line x1="661" y1="1133.5" x2="661" y2="1145.4" stroke="rgb(255,13,87)" stroke-opacity="0.6" stroke-width="1.2"/>
<rect x="507.4" y="1145.4" width="1.2" height="24.8" fill="url(#lg0)"/>
<line x1="590" y1="1133.5" x2="508" y2="1145.4" stroke="rgb(255,13,87)" stroke-opacity="0.6" stroke-width="1.2"/>
<rect x="401.4" y="1145.4" width="1.2" height="24.8" fill="url(#lg0)"/>
<line x1="539" y1="1133.5" x2="402" y2="1145.4" stroke="rgb(255,13,87)" stroke-opacity="0.6" stroke-width="1.2"/>
<rect x="279.4" y="1145.4" width="1.2" height="24.8" fill="url(#lg0)"/>
<line x1="493.5" y1="1133.5" x2="280" y2="1145.4" stroke="rgb(255,13,87)" stroke-opacity="0.6" stroke-width="1.2"/>
<rect x="147.4" y="1145.4" width="1.2" height="24.8" fill="url(#lg0)"/>
<line x1="449" y1="1133.5" x2="148" y2="1145.4" stroke="rgb(255,13,87)" stroke-opacity="0.6" stroke-width="1.2"/>
<path d="M399,1112.8L403.7,1123.15L399,1133.5" fill="none" stroke="rgb(255,214,226)" stroke-width="2.35"/>
<path d="M409,1112.8L413.7,1123.15L409,1133.5" fill="none" stroke="rgb(255,214,226)" stroke-width="2.35"/>
<path d="M449,1112.8L453.7,1123.15L449,1133.5" fill="none" stroke="rgb(255,214,226)" stroke-width="2.35"/>
<path d="M493.5,1112.8L498.2,1123.15L493.5,1133.5" fill="none" stroke="rgb(255,214,226)" stroke-width="2.35"/>
<path d="M539,1112.8L543.7,1123.15L539,1133.5" fill="none" stroke="rgb(255,214,226)" stroke-width="2.35"/>
<path d="M590,1112.8L594.7,1123.15L590,1133.5" fill="none" stroke="rgb(255,214,226)" stroke-width="2.35"/>
<path d="M661,1112.8L665.7,1123.15L661,1133.5" fill="none" stroke="rgb(255,214,226)" stroke-width="2.35"/>
<path d="M814.4,1112.8L819.1,1123.15L814.4,1133.5" fill="none" stroke="rgb(255,214,226)" stroke-width="2.35"/>
<path d="M1507.6,1112.8L1502.9,1123.15L1507.6,1133.5" fill="none" stroke="rgb(222,238,252)" stroke-width="2.35"/>
<path d="M1730,1112.8L1725.3,1123.15L1730,1133.5" fill="none" stroke="rgb(222,238,252)" stroke-width="2.35"/>
<path d="M1786.5,1112.8L1781.8,1123.15L1786.5,1133.5" fill="none" stroke="rgb(222,238,252)" stroke-width="2.35"/>
<path d="M1810,1112.8L1805.3,1123.15L1810,1133.5" fill="none" stroke="rgb(222,238,252)" stroke-width="2.35"/>
<path d="M1815.5,1112.8L1810.8,1123.15L1815.5,1133.5" fill="none" stroke="rgb(222,238,252)" stroke-width="2.35"/>
<line x1="18.4" y1="1107.2" x2="1892" y2="1107.2" stroke="#000" stroke-opacity="0.45" stroke-width="1.2"/>
<line x1="184" y1="1107.2" x2="184" y2="1111" stroke="#000" stroke-opacity="0.45" stroke-width="1.2"/>
<text class="tick" x="184" y="1100.3">-0.0008499</text>
<line x1="376.13" y1="1107.2" x2="376.13" y2="1111" stroke="#000" stroke-opacity="0.45" stroke-width="1.2"/>
<text class="tick" x="376.13" y="1100.3">0.04915</text>
<line x1="568.26" y1="1107.2" x2="568.26" y2="1111" stroke="#000" stroke-opacity="0.45" stroke-width="1.2"/>
<text class="tick" x="568.26" y="1100.3">0.09915</text>
<line x1="760.39" y1="1107.2" x2="760.39" y2="1111" stroke="#000" stroke-opacity="0.45" stroke-width="1.2"/>
<text class="tick" x="760.39" y="1100.3">0.1492</text>
<line x1="952.52" y1="1107.2" x2="952.52" y2="1111" stroke="#000" stroke-opacity="0.45" stroke-width="1.2"/>
<text class="tick" x="952.52" y="1100.3">0.1992</text>
<line x1="1144.65" y1="1107.2" x2="1144.65" y2="1111" stroke="#000" stroke-opacity="0.45" stroke-width="1.2"/>
<text class="tick" x="1144.65" y="1100.3">0.2492</text>
<line x1="1336.78" y1="1107.2" x2="1336.78" y2="1111" stroke="#000" stroke-opacity="0.45" stroke-width="1.2"/>
<text class="tick" x="1336.78" y="1100.3">0.2992</text>
<line x1="1528.91" y1="1107.2" x2="1528.91" y2="1111" stroke="#000" stroke-opacity="0.45" stroke-width="1.2"/>
<text class="tick" x="1528.91" y="1100.3">0.3492</text>
<line x1="1721.04" y1="1107.2" x2="1721.04" y2="1111" stroke="#000" stroke-opacity="0.45" stroke-width="1.2"/>
<text class="tick" x="1721.04" y="1100.3">0.3992</text>
<text class="lab" x="1289" y="1163.4" fill="rgb(30,136,229)">urineoutput = 670</text>
<text class="lab" x="1618.8" y="1163.4" fill="rgb(30,136,229)">bmi = 19.31</text>
<text class="lab" x="1797" y="1163.4" fill="rgb(30,136,229)">aniongap_min = 15</text>
<text class="lab" x="942.4" y="1163.4" fill="rgb(255,13,87)">sofa = 5</text>
<text class="lab" x="737.7" y="1163.4" fill="rgb(255,13,87)">bun_max = 7</text>
<text class="lab" x="584.5" y="1163.4" fill="rgb(255,13,87)">bicarbonate_max = 22</text>
<text class="lab" x="455" y="1163.4" fill="rgb(255,13,87)">ptt_max = 27.3</text>
<text class="lab" x="341" y="1163.4" fill="rgb(255,13,87)">pneumonia_1 = 0</text>
<text class="lab" x="214" y="1163.4" fill="rgb(255,13,87)">glucose_min = 108</text>
<text class="lab" x="73.3" y="1163.4" fill="rgb(255,13,87)">bicarbonate_min = 21</text>
<text class="ttl" x="1144.6" y="1080.2">base value</text>
<line x1="1070.4" y1="1106.6" x2="1070.4" y2="1112.8" stroke="#F2F2F2" stroke-width="1.2"/>
<text class="bold" x="1070.4" y="1100.3" fill="#000" stroke="#fff" stroke-width="8" stroke-linejoin="round" paint-order="stroke">0.23</text>
<text class="hl" x="1051.6" y="1061.4" text-anchor="end" fill="rgb(255,13,87)">higher</text>
<text class="hl" x="1089.2" y="1061.4" text-anchor="start" fill="rgb(30,136,229)">lower</text>
<text class="arr" x="1078.6" y="1058.5" text-anchor="end" fill="rgb(255,13,87)">→</text>
<text class="arr" x="1062.2" y="1065.4" text-anchor="start" fill="rgb(30,136,229)">←</text>
<text class="ttl" x="1071.1" y="1080.2">f(x)</text>
</g>
<text class="cap" x="798.9" y="1264.3" style="word-spacing:0.9px">Sepsis with AKI stage 3</text>
</svg>
</body></html>
